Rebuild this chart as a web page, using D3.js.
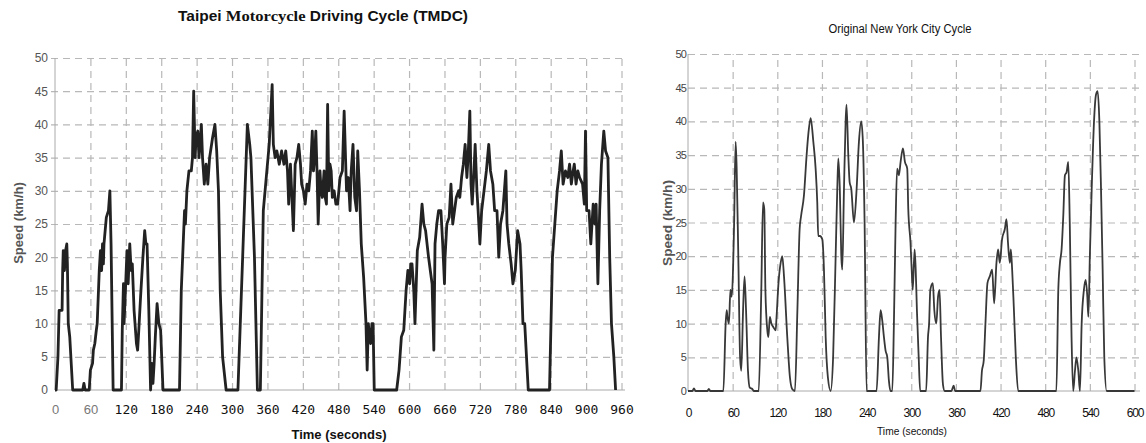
<!DOCTYPE html>
<html>
<head>
<meta charset="utf-8">
<script src="https://cdn.jsdelivr.net/npm/d3@7"></script>
<style>
    body { margin: 0; background: #ffffff; }
</style>
</head>
<body>
<div id="chart"></div>
<script>
// Taipei Motorcycle Driving Cycle - time (s) and speed (km/h)
var tmdcTime = [0, 2, 5, 7, 12, 13, 14, 16, 18, 20, 21, 22.5, 25, 30, 47, 49, 51, 58, 60, 63.6, 65, 67.5, 70, 71.5, 75, 77, 79, 80.5, 82, 83, 87, 90.6, 93, 95, 98.5,
    112.6, 114, 116, 117, 118, 122, 124, 126.7, 129, 131, 134, 138, 140, 142, 145, 149, 152, 154, 156, 159, 162, 164, 166, 168, 170, 173, 176, 179, 183,
    211, 214, 219.5, 221, 223.5, 227, 231, 233, 235, 237.5, 239, 242, 244, 245, 248, 250, 253, 256, 259, 262, 267, 271, 274, 277, 280, 282, 284, 290,
    310, 326, 330, 332, 338, 343, 348, 353, 357, 363, 368, 370, 373, 376, 380, 384, 388, 391, 394, 396, 399, 402, 404, 407, 410, 413, 416, 418, 421, 424,
    427, 430, 433, 436, 438, 440, 442, 444, 446, 449, 451, 453, 456, 458, 460, 462, 464, 466, 468, 470, 473, 476, 479, 483, 487, 490, 494, 497, 500, 502,
    505, 508, 511, 513, 516, 519, 523, 527, 529, 531, 533, 535, 537, 539, 541, 579, 583, 587, 591, 595, 598, 601, 603, 605, 608, 610, 614, 618, 622, 625,
    628, 633, 636, 639, 642, 644, 647, 650, 654, 657, 660, 661, 664, 668, 671, 674, 677, 680, 684, 686, 689, 692, 695, 698, 700, 703, 705, 707, 710, 712,
    715, 717, 720, 723, 727, 731, 735, 738, 742, 745, 749, 752, 755, 759, 764, 766, 769, 773, 776, 780, 784, 788, 790, 793, 796, 802, 838, 843, 847, 851,
    855, 858, 861, 865, 869, 872, 875, 878, 880, 883, 886, 889, 894, 897, 899, 901, 905, 908, 912, 915, 917, 920, 923, 926, 930, 933, 937, 940, 943, 947, 950];
var tmdcSpeed = [0, 0, 5, 12, 12, 18, 21, 18, 21, 22, 19, 10, 8, 0, 0, 1, 0, 0, 3, 4, 6, 7, 9, 10, 18, 21, 18, 22, 19, 22, 26, 27, 30, 22, 0,
    0, 9, 16, 10, 12, 21, 16, 22, 18, 19, 12, 7, 6, 9, 14, 20, 24, 22, 22, 12, 0, 4, 1, 4, 8, 13, 10, 9, 0,
    0, 15, 27, 25, 30, 33, 33, 35, 45, 35, 38, 39, 35, 36, 40, 35, 31, 34, 31, 35, 38, 40, 36, 30, 15, 10, 5, 0,
    0, 40, 37, 35, 20, 0, 0, 27, 31, 37, 46, 37, 35, 36, 34, 36, 34, 36, 33, 28, 34, 28, 24, 34, 35, 37, 34, 31, 30, 28,
    31, 30, 33, 39, 33, 35, 39, 33, 25, 33, 30, 29, 33, 29, 28, 43, 30, 34, 33, 29, 30, 28, 28, 32, 33, 42, 30, 32, 27, 33,
    37, 29, 27, 36, 30, 22, 17, 10, 3, 10, 8, 7, 10, 10, 0, 0, 3, 8, 9, 15, 18, 16, 19, 19, 15, 10, 21, 23, 28, 25,
    24, 20, 18, 16, 6, 22, 25, 27, 27, 22, 16, 20, 25, 26, 31, 25, 27, 29, 30, 29, 32, 34, 37, 32, 35, 42, 31, 28, 33, 37,
    30, 27, 22, 27, 30, 33, 37, 33, 31, 27, 27, 20, 25, 27, 33, 25, 22, 19, 16, 18, 24, 22, 18, 10, 10, 0, 0, 20, 25, 30,
    33, 36, 31, 33, 32, 34, 31, 33, 34, 31, 33, 32, 31, 28, 39, 27, 27, 22, 28, 25, 28, 16, 27, 34, 39, 36, 35, 20, 10, 5, 0];

// Original New York City Cycle - time (s) and speed (km/h)
var nyccTime = [0, 6, 8, 10, 26, 28, 30, 47.5, 50.6, 52, 53, 55, 57, 58.7, 62, 64, 65.4, 67.6, 70, 71.6, 74, 76, 78, 80.6, 83, 86.4, 88.7, 95,
    98.5, 100.8, 102.5, 104, 106.6, 108, 110, 112, 114.6, 117.8, 119, 121.6, 124.5, 126.7, 129, 133.4, 137, 140, 143.7,
    147, 150, 152, 155.8, 159.4, 161.6, 164.8, 168.4, 171.5, 173.7, 175, 177.3, 180.5, 182.7, 185, 188, 191.7,
    195, 198.4, 200.6, 202, 204, 206, 207.3, 209.6, 211.8, 213, 215.4, 217.2, 219.4, 223, 226.6, 229.7, 232.8, 235, 237.3, 240,
    253.4, 256.6, 258.8, 261, 263.3, 265.5, 267.8, 270, 272, 274.5, 276.7, 279, 281, 283.4, 285.7, 288.8, 291.5, 294.6, 296, 299,
    301, 302, 304.5, 306, 307.6, 310, 312, 320, 322.5, 324, 325.6, 329, 331, 333.7, 336, 338, 340, 342.6, 345, 354, 357, 359, 393,
    395, 397.4, 399.7, 402.4, 405.5, 408.7, 411.4, 414.5, 416.7, 419, 422, 425.7, 428, 430, 432.5, 433.8, 435.6, 437.8, 440.5, 443.7,
    495, 497.6, 499.8, 502, 504.3, 506.5, 508.8, 511, 513, 515.4, 517.6, 520, 522, 524.5, 526.7, 529, 532, 534.4, 536.6, 538,
    540, 542.5, 545.6, 548.3, 550.5, 552.8, 555, 557.2, 559.4, 562.6, 600];
var nyccSpeed = [0, 0, 0.4, 0, 0, 0.3, 0, 0, 10, 12, 11, 10, 15, 14, 25, 37, 33, 20, 5, 3, 12, 17, 12, 3, 0.5, 0.3, 0, 0,
    15, 28, 27, 15, 9, 8, 11, 10, 9.5, 9, 11, 16, 19, 20, 17, 8, 2, 0.3, 0,
    12, 24, 26, 29, 35, 38, 40.5, 37, 33, 28, 23, 23, 22.5, 18, 8, 2, 0,
    5, 20, 30, 34.5, 30, 20, 18, 30, 40, 42.5, 35, 31, 30, 25, 30, 37, 40, 37, 25, 0,
    0, 8, 12, 10.5, 8, 6, 5, 1.5, 0, 0, 10, 25, 33, 32, 34, 36, 34, 33, 27, 22,
    17, 15, 21, 18, 12, 5, 0, 0, 8, 10, 15, 16, 12, 10, 14, 15, 8, 1, 0, 0, 0.8, 0, 0,
    3, 4.5, 10, 16, 17, 18, 13, 19, 21, 19, 22.5, 24, 25.5, 22, 19, 21, 18, 12.5, 5, 0,
    0, 15, 19, 21, 26, 32, 32.5, 34, 25, 8, 0, 3, 5, 3, 0, 10, 15, 16.5, 14, 11,
    20, 30, 40, 44, 44.5, 40, 30, 18, 5, 0, 0];

var speedTicks = [0, 5, 10, 15, 20, 25, 30, 35, 40, 45, 50];
var tmdcTimeTicks = [0, 60, 120, 180, 240, 300, 360, 420, 480, 540, 600, 660, 720, 780, 840, 900, 960];
var nyccTimeTicks = [0, 60, 120, 180, 240, 300, 360, 420, 480, 540, 600];

var W = 1146, H = 443;

var svg = d3.select("#chart")
    .append("svg")
    .attr("width", W)
    .attr("height", H)
    .style("font-family", "Liberation Sans, Arial, sans-serif");

// ---------- left chart (TMDC) ----------
var xL = d3.scaleLinear().domain([0, 960]).range([55, 621.5]);
var yL = d3.scaleLinear().domain([0, 50]).range([390, 58]);

var left = svg.append("g");

// grid
left.append("g")
    .attr("transform", "translate(51,0)")
    .call(d3.axisLeft(yL).tickValues(speedTicks.slice(1)).tickSize(-(xL.range()[1] + 4 - 51)).tickFormat(""))
    .call(function (g) { g.select(".domain").remove(); })
    .selectAll("line")
    .attr("stroke", "#b8b8b8")
    .attr("stroke-width", 1.2)
    .attr("stroke-dasharray", "7,5");

left.append("g")
    .attr("transform", "translate(0,390)")
    .call(d3.axisBottom(xL).tickValues(tmdcTimeTicks.slice(1)).tickSize(-(390 - 58)).tickFormat(""))
    .call(function (g) { g.select(".domain").remove(); })
    .selectAll("line")
    .attr("stroke", "#b8b8b8")
    .attr("stroke-width", 1.2)
    .attr("stroke-dasharray", "7,5");

// solid axis lines
left.append("line")
    .attr("x1", 55).attr("x2", 55).attr("y1", 58).attr("y2", 390)
    .attr("stroke", "#aaa").attr("stroke-width", 1);
left.append("line")
    .attr("x1", 55).attr("x2", 625).attr("y1", 390).attr("y2", 390)
    .attr("stroke", "#aaa").attr("stroke-width", 1);

// y tick labels
left.append("g")
    .attr("transform", "translate(48,0)")
    .call(d3.axisLeft(yL).tickValues(speedTicks).tickSize(0).tickPadding(0))
    .call(function (g) { g.select(".domain").remove(); })
    .selectAll("text")
    .attr("font-family", "Liberation Sans, Arial, sans-serif")
    .attr("font-size", 12)
    .attr("fill", "#555");

// x tick labels
left.append("g")
    .attr("transform", "translate(0,390)")
    .call(d3.axisBottom(xL).tickValues(tmdcTimeTicks).tickSize(0).tickPadding(15))
    .call(function (g) { g.select(".domain").remove(); })
    .selectAll("text")
    .attr("font-family", function (d) { return d < 120 ? "Liberation Sans, Arial, sans-serif" : "DejaVu Sans Mono, monospace"; })
    .attr("font-size", 13)
    .attr("fill", function (d) { return d < 120 ? "#777" : "#111"; });

// line
left.append("path")
    .datum(tmdcTime)
    .attr("fill", "none")
    .attr("stroke", "#222")
    .attr("stroke-width", 2.8)
    .attr("stroke-linejoin", "round")
    .attr("d", d3.line()
        .x(function (d) { return xL(d); })
        .y(function (d, i) { return yL(tmdcSpeed[i]); })
    );

// titles
var t1 = svg.append("text")
    .attr("x", 323)
    .attr("y", 21)
    .attr("text-anchor", "middle")
    .attr("font-weight", "bold")
    .attr("font-size", 14)
    .attr("textLength", 290)
    .attr("lengthAdjust", "spacingAndGlyphs")
    .attr("fill", "#111");
t1.append("tspan").text("Taipei ");
t1.append("tspan").attr("font-family", "Liberation Serif, Times New Roman, serif").attr("font-size", 15).text("Motorcycle");
t1.append("tspan").text(" Driving Cycle (TMDC)");

svg.append("text")
    .attr("x", 339)
    .attr("y", 439)
    .attr("text-anchor", "middle")
    .attr("font-weight", "bold")
    .attr("font-size", 13)
    .attr("fill", "#111")
    .text("Time (seconds)");

svg.append("text")
    .attr("transform", "translate(23,223) rotate(-90)")
    .attr("text-anchor", "middle")
    .attr("font-weight", "bold")
    .attr("font-size", 13)
    .attr("fill", "#555")
    .text("Speed (km/h)");

// ---------- right chart (NYCC) ----------
var xR = d3.scaleLinear().domain([0, 600]).range([688, 1134.5]);
var yR = d3.scaleLinear().domain([0, 50]).range([391, 54]);

var right = svg.append("g");

right.append("g")
    .attr("transform", "translate(688,0)")
    .call(d3.axisLeft(yR).tickValues(speedTicks.slice(1)).tickSize(-(1140 - 688)).tickFormat(""))
    .call(function (g) { g.select(".domain").remove(); })
    .selectAll("line")
    .attr("stroke", "#b8b8b8")
    .attr("stroke-width", 1.2)
    .attr("stroke-dasharray", "7,5");

right.append("g")
    .attr("transform", "translate(0,391)")
    .call(d3.axisBottom(xR).tickValues(nyccTimeTicks.slice(1)).tickSize(-(391 - 54)).tickFormat(""))
    .call(function (g) { g.select(".domain").remove(); })
    .selectAll("line")
    .attr("stroke", "#b8b8b8")
    .attr("stroke-width", 1.2)
    .attr("stroke-dasharray", "7,5");

right.append("line")
    .attr("x1", 688).attr("x2", 688).attr("y1", 54).attr("y2", 391)
    .attr("stroke", "#aaa").attr("stroke-width", 1);
right.append("line")
    .attr("x1", 688).attr("x2", 1140).attr("y1", 391).attr("y2", 391)
    .attr("stroke", "#aaa").attr("stroke-width", 1);

right.append("g")
    .attr("transform", "translate(686,0)")
    .call(d3.axisLeft(yR).tickValues(speedTicks).tickSize(0).tickPadding(0))
    .call(function (g) { g.select(".domain").remove(); })
    .selectAll("text")
    .attr("font-family", "Liberation Sans, Arial, sans-serif")
    .attr("font-size", 11)
    .attr("letter-spacing", "-0.9px")
    .attr("fill", "#444");

right.append("g")
    .attr("transform", "translate(0,391)")
    .call(d3.axisBottom(xR).tickValues(nyccTimeTicks).tickSize(0).tickPadding(17))
    .call(function (g) { g.select(".domain").remove(); })
    .selectAll("text")
    .attr("font-family", "Liberation Sans, Arial, sans-serif")
    .attr("font-size", 12)
    .attr("letter-spacing", "-1.2px")
    .attr("fill", "#111");

right.append("path")
    .datum(nyccTime)
    .attr("fill", "none")
    .attr("stroke", "#383838")
    .attr("stroke-width", 1.8)
    .attr("d", d3.line()
        .curve(d3.curveMonotoneX)
        .x(function (d) { return xR(d); })
        .y(function (d, i) { return yR(nyccSpeed[i]); })
    );

svg.append("text")
    .attr("x", 900)
    .attr("y", 33)
    .attr("text-anchor", "middle")
    .attr("font-size", 12)
    .attr("textLength", 143)
    .attr("lengthAdjust", "spacingAndGlyphs")
    .attr("fill", "#111")
    .text("Original New York City Cycle");

svg.append("text")
    .attr("x", 912)
    .attr("y", 435)
    .attr("text-anchor", "middle")
    .attr("font-size", 11.5)
    .attr("textLength", 70)
    .attr("lengthAdjust", "spacingAndGlyphs")
    .attr("fill", "#111")
    .text("Time (seconds)");

svg.append("text")
    .attr("transform", "translate(672,223) rotate(-90)")
    .attr("text-anchor", "middle")
    .attr("font-weight", "bold")
    .attr("font-size", 12)
    .attr("textLength", 86)
    .attr("lengthAdjust", "spacingAndGlyphs")
    .attr("fill", "#555")
    .text("Speed (km/h)");
</script>
</body>
</html>
